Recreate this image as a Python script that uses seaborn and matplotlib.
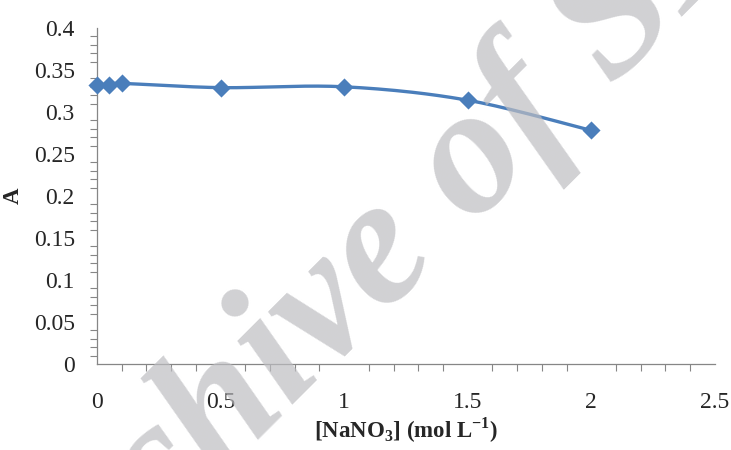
import numpy as np
import pandas as pd
import seaborn as sns
import matplotlib.pyplot as plt
from matplotlib.ticker import MultipleLocator

# Data
conc = [0, 0.05, 0.1, 0.5, 1, 1.5, 2]
absorb = [0.332, 0.332, 0.334, 0.329, 0.330, 0.314, 0.278]

x_ticks = [0, 0.5, 1, 1.5, 2, 2.5]
x_tick_labels = ['0', '0.5', '1', '1.5', '2', '2.5']
y_ticks = [0, 0.05, 0.1, 0.15, 0.2, 0.25, 0.3, 0.35, 0.4]
y_tick_labels = ['0', '0.05', '0.1', '0.15', '0.2', '0.25', '0.3', '0.35', '0.4']

LINE_COLOR = '#4a7ebb'
AXIS_COLOR = '#868686'


def smooth_curve(xs, ys, n=30):
    # Excel style smoothed line (Bezier through the points)
    p = np.column_stack([xs, ys]).astype(float)
    p_ext = np.vstack([p[0], p, p[-1]])
    pts = []
    t = np.linspace(0, 1, n)[:, None]
    for i in range(len(p) - 1):
        p0, p1 = p_ext[i + 1], p_ext[i + 2]
        c1 = p0 + (p_ext[i + 2] - p_ext[i]) / 6
        c2 = p1 - (p_ext[i + 3] - p_ext[i + 1]) / 6
        seg = ((1 - t) ** 3) * p0 + 3 * ((1 - t) ** 2) * t * c1 + 3 * (1 - t) * t ** 2 * c2 + t ** 3 * p1
        pts.append(seg if i == 0 else seg[1:])
    return np.vstack(pts)


sns.set_style('white')
plt.rcParams['font.family'] = ['Liberation Serif', 'DejaVu Serif']
plt.rcParams['mathtext.fontset'] = 'custom'
plt.rcParams['mathtext.rm'] = 'Liberation Serif:bold'
plt.rcParams['mathtext.bf'] = 'Liberation Serif:bold'

fig = plt.figure(figsize=(7.31, 4.5), dpi=100)
ax = fig.add_axes([0.1327, 0.1911, 0.978 - 0.1327, 0.9378 - 0.1911])

curve = smooth_curve(conc, absorb)
df_curve = pd.DataFrame({'x': curve[:, 0], 'y': curve[:, 1]})
df_pts = pd.DataFrame({'x': conc, 'y': absorb})

sns.lineplot(data=df_curve, x='x', y='y', sort=False, estimator=None,
             color=LINE_COLOR, linewidth=2.4, ax=ax)
sns.scatterplot(data=df_pts, x='x', y='y', marker='D', s=85,
                color=LINE_COLOR, edgecolor=LINE_COLOR, linewidth=0,
                zorder=5, clip_on=False, ax=ax)

ax.set_xlim(0, 2.5)
ax.set_ylim(0, 0.4)
ax.set_xticks(x_ticks)
ax.set_xticklabels(x_tick_labels)
ax.set_yticks(y_ticks)
ax.set_yticklabels(y_tick_labels)
ax.xaxis.set_minor_locator(MultipleLocator(0.1))
ax.yaxis.set_minor_locator(MultipleLocator(0.01))

ax.tick_params(axis='x', which='major', direction='out', length=6, width=0.8,
               color=AXIS_COLOR, labelsize=17, pad=14)
ax.tick_params(axis='y', which='major', direction='out', length=6, width=0.8,
               color=AXIS_COLOR, labelsize=17, pad=10)
ax.tick_params(which='minor', direction='out', length=5, width=0.8,
               color=AXIS_COLOR, bottom=True, left=True)

for side in ['top', 'right']:
    ax.spines[side].set_visible(False)
for side in ['left', 'bottom']:
    ax.spines[side].set_color(AXIS_COLOR)
    ax.spines[side].set_linewidth(0.9)

ax.set_xlabel(r'[NaNO$_{3}$] (mol L$^{-1}$)', fontsize=16.5, fontweight='bold', labelpad=2)
ax.set_ylabel('A', fontsize=16.5, fontweight='bold', labelpad=7)

# watermark
fig.text(0.587, 0.380, 'Archive of SID', fontsize=131, fontweight='bold',
         fontstyle='italic', color='#bdbdc1', alpha=0.7, rotation=45,
         rotation_mode='anchor', ha='center', va='baseline')

fig.savefig('out.png', dpi=100)
